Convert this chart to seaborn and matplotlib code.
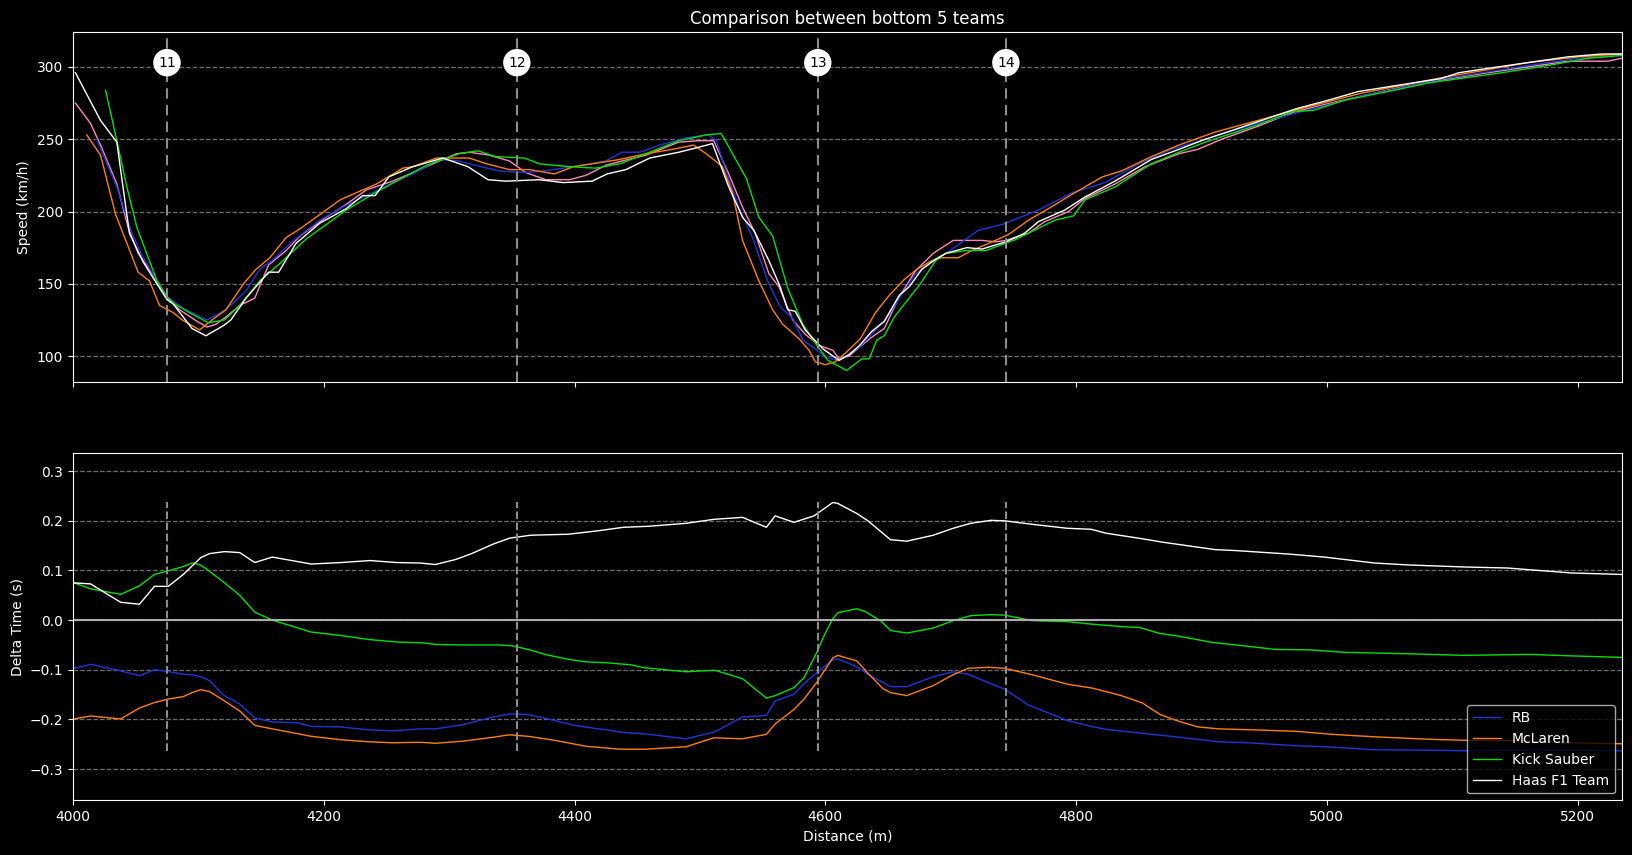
import pandas as pd
import matplotlib
matplotlib.use("Agg")
import matplotlib.pyplot as plt
import seaborn as sns

# Speed traces (distance in m, speed in km/h)
alpine_dist = [4002, 4014, 4022, 4035, 4044, 4052, 4065, 4075, 4085, 4099, 4107, 4114, 4122, 4133, 4145, 4156, 4170, 4181, 4202, 4218, 4234, 4255, 4282, 4295, 4306, 4316, 4332, 4348, 4361, 4377, 4396, 4409, 4425, 4438, 4457, 4483, 4499, 4511, 4523, 4534, 4544, 4555, 4563, 4574, 4584, 4596, 4606, 4611, 4619, 4627, 4637, 4647, 4659, 4672, 4686, 4702, 4725, 4736, 4744, 4762, 4775, 4794, 4807, 4831, 4855, 4882, 4897, 4916, 4945, 4974, 4998, 5028, 5059, 5091, 5128, 5160, 5192, 5224, 5235]
alpine_speed = [275, 261, 246, 219, 189, 171, 155, 140, 132, 124, 120, 122, 127, 135, 140, 163, 173, 183, 196, 205, 215, 221, 231, 236, 240, 241, 239, 235, 227, 222, 222, 225, 232, 235, 239, 248, 249, 249, 226, 203, 185, 157, 148, 125, 115, 107, 104, 98, 100, 106, 113, 119, 141, 159, 171, 180, 180, 179, 180, 185, 193, 200, 209, 219, 231, 240, 243, 250, 259, 269, 274, 280, 286, 291, 296, 300, 304, 304, 306]

rb_dist = [4019, 4035, 4047, 4056, 4075, 4088, 4107, 4122, 4138, 4149, 4160, 4176, 4197, 4215, 4239, 4255, 4271, 4292, 4308, 4316, 4340, 4361, 4375, 4391, 4412, 4425, 4438, 4452, 4468, 4489, 4507, 4513, 4521, 4531, 4542, 4554, 4564, 4574, 4582, 4592, 4600, 4611, 4627, 4640, 4648, 4659, 4672, 4690, 4698, 4722, 4741, 4770, 4797, 4823, 4850, 4876, 4903, 4945, 4988, 5028, 5094, 5160, 5200, 5235]
rb_speed = [250, 217, 185, 168, 141, 133, 125, 132, 145, 160, 167, 180, 194, 203, 213, 220, 226, 236, 235, 233, 228, 227, 228, 230, 233, 235, 241, 241, 246, 251, 253, 249, 228, 203, 182, 152, 134, 126, 111, 105, 99, 97, 106, 118, 125, 140, 157, 168, 172, 187, 191, 201, 213, 220, 233, 243, 250, 261, 271, 280, 292, 301, 306, 308]

mclaren_dist = [4011, 4022, 4034, 4043, 4052, 4061, 4069, 4080, 4087, 4101, 4111, 4122, 4136, 4146, 4157, 4170, 4181, 4197, 4213, 4226, 4242, 4263, 4271, 4290, 4316, 4330, 4348, 4364, 4384, 4399, 4414, 4436, 4457, 4478, 4495, 4505, 4518, 4526, 4534, 4547, 4558, 4566, 4579, 4587, 4592, 4600, 4608, 4616, 4628, 4640, 4651, 4663, 4673, 4685, 4693, 4706, 4717, 4733, 4746, 4762, 4778, 4797, 4821, 4836, 4860, 4882, 4911, 4945, 4974, 5028, 5094, 5160, 5200, 5235]
mclaren_speed = [253, 239, 198, 178, 158, 152, 135, 130, 125, 118, 125, 132, 150, 160, 168, 182, 188, 198, 208, 213, 219, 230, 231, 237, 237, 233, 229, 229, 226, 231, 233, 236, 240, 243, 246, 240, 231, 213, 180, 152, 132, 122, 112, 104, 96, 94, 96, 102, 112, 130, 142, 153, 160, 166, 168, 168, 173, 179, 184, 194, 202, 212, 224, 228, 238, 246, 255, 263, 270, 282, 293, 303, 307, 309]

sauber_dist = [4026, 4035, 4043, 4051, 4067, 4075, 4081, 4093, 4108, 4121, 4133, 4149, 4165, 4186, 4218, 4239, 4258, 4282, 4308, 4323, 4337, 4360, 4372, 4396, 4417, 4436, 4457, 4483, 4505, 4517, 4526, 4537, 4547, 4558, 4570, 4582, 4592, 4602, 4617, 4629, 4635, 4641, 4647, 4655, 4664, 4675, 4688, 4696, 4712, 4728, 4750, 4762, 4783, 4798, 4807, 4831, 4860, 4882, 4903, 4945, 4972, 4989, 5014, 5054, 5081, 5139, 5176, 5208, 5235]
sauber_speed = [284, 249, 217, 189, 152, 141, 136, 130, 123, 125, 135, 152, 164, 181, 201, 212, 221, 232, 240, 242, 238, 237, 233, 231, 230, 233, 240, 249, 253, 254, 240, 223, 196, 183, 147, 122, 109, 97, 90, 98, 98, 111, 114, 127, 137, 149, 166, 171, 173, 173, 180, 185, 194, 197, 208, 217, 233, 241, 248, 260, 269, 270, 277, 284, 289, 296, 301, 306, 308]

haas_dist = [4002, 4022, 4035, 4045, 4056, 4075, 4080, 4095, 4106, 4120, 4126, 4138, 4156, 4164, 4178, 4197, 4218, 4231, 4241, 4252, 4271, 4295, 4315, 4331, 4345, 4372, 4391, 4414, 4426, 4441, 4460, 4483, 4497, 4510, 4523, 4534, 4543, 4555, 4564, 4570, 4576, 4584, 4598, 4611, 4619, 4627, 4637, 4647, 4659, 4667, 4677, 4688, 4696, 4713, 4725, 4744, 4759, 4770, 4791, 4807, 4831, 4860, 4882, 4903, 4924, 4948, 4975, 5001, 5025, 5054, 5091, 5105, 5128, 5160, 5192, 5219, 5235]
haas_speed = [296, 263, 248, 185, 165, 139, 136, 119, 114, 121, 125, 140, 158, 158, 178, 192, 202, 211, 211, 224, 231, 237, 231, 222, 221, 222, 220, 221, 226, 229, 237, 241, 244, 247, 217, 196, 187, 166, 148, 132, 131, 118, 105, 97, 101, 107, 117, 124, 142, 148, 160, 167, 171, 175, 174, 179, 185, 193, 201, 210, 221, 236, 243, 250, 256, 263, 271, 277, 283, 287, 292, 296, 299, 303, 307, 309, 309]

# Delta time to the reference car (s)
rb_delta_dist = [4001, 4014, 4038, 4053, 4065, 4077, 4088, 4095, 4102, 4109, 4120, 4133, 4145, 4159, 4180, 4190, 4213, 4236, 4255, 4277, 4289, 4310, 4332, 4348, 4363, 4384, 4400, 4419, 4426, 4437, 4456, 4489, 4512, 4534, 4553, 4560, 4575, 4583, 4593, 4606, 4610, 4625, 4634, 4652, 4665, 4686, 4702, 4714, 4732, 4743, 4762, 4793, 4812, 4824, 4853, 4872, 4914, 4937, 4976, 4998, 5038, 5082, 5110, 5167, 5235]
rb_delta = [-0.097, -0.089, -0.102, -0.112, -0.100, -0.104, -0.109, -0.110, -0.114, -0.122, -0.151, -0.169, -0.197, -0.205, -0.207, -0.214, -0.215, -0.221, -0.223, -0.219, -0.219, -0.211, -0.197, -0.189, -0.190, -0.202, -0.212, -0.219, -0.221, -0.226, -0.229, -0.239, -0.225, -0.195, -0.192, -0.163, -0.149, -0.128, -0.106, -0.080, -0.078, -0.094, -0.109, -0.134, -0.134, -0.114, -0.104, -0.109, -0.128, -0.139, -0.171, -0.202, -0.214, -0.220, -0.228, -0.233, -0.245, -0.247, -0.253, -0.255, -0.261, -0.262, -0.263, -0.261, -0.263]

mclaren_delta_dist = [4001, 4014, 4038, 4053, 4065, 4076, 4088, 4095, 4102, 4109, 4121, 4133, 4145, 4159, 4190, 4214, 4236, 4255, 4277, 4289, 4310, 4332, 4348, 4363, 4384, 4409, 4437, 4456, 4489, 4511, 4534, 4553, 4560, 4575, 4583, 4593, 4606, 4610, 4625, 4634, 4646, 4652, 4665, 4686, 4701, 4714, 4730, 4743, 4765, 4793, 4813, 4836, 4853, 4867, 4881, 4897, 4914, 4942, 4976, 5004, 5038, 5082, 5110, 5155, 5195, 5235]
mclaren_delta = [-0.199, -0.193, -0.199, -0.177, -0.166, -0.159, -0.154, -0.146, -0.140, -0.144, -0.163, -0.183, -0.212, -0.219, -0.234, -0.241, -0.245, -0.247, -0.246, -0.248, -0.244, -0.237, -0.231, -0.234, -0.242, -0.254, -0.260, -0.260, -0.255, -0.237, -0.239, -0.230, -0.209, -0.180, -0.159, -0.126, -0.076, -0.071, -0.082, -0.107, -0.138, -0.146, -0.152, -0.132, -0.111, -0.097, -0.095, -0.097, -0.110, -0.129, -0.137, -0.152, -0.167, -0.190, -0.203, -0.215, -0.219, -0.221, -0.224, -0.230, -0.235, -0.240, -0.242, -0.243, -0.247, -0.249]

sauber_delta_dist = [4001, 4014, 4038, 4053, 4065, 4077, 4088, 4095, 4101, 4107, 4121, 4133, 4145, 4159, 4190, 4214, 4236, 4258, 4280, 4289, 4310, 4340, 4351, 4363, 4378, 4395, 4409, 4426, 4445, 4456, 4489, 4512, 4534, 4553, 4560, 4575, 4583, 4593, 4600, 4606, 4610, 4625, 4632, 4645, 4652, 4665, 4686, 4702, 4716, 4732, 4743, 4765, 4793, 4812, 4836, 4851, 4867, 4881, 4909, 4931, 4959, 4987, 5015, 5054, 5110, 5161, 5195, 5235]
sauber_delta = [0.075, 0.063, 0.052, 0.069, 0.092, 0.100, 0.108, 0.115, 0.112, 0.102, 0.075, 0.050, 0.016, 0.000, -0.024, -0.031, -0.039, -0.044, -0.046, -0.049, -0.050, -0.050, -0.052, -0.059, -0.070, -0.079, -0.084, -0.086, -0.090, -0.096, -0.104, -0.101, -0.118, -0.157, -0.152, -0.136, -0.116, -0.066, -0.026, 0.003, 0.015, 0.023, 0.017, -0.003, -0.021, -0.026, -0.016, -0.001, 0.009, 0.011, 0.010, -0.001, -0.003, -0.008, -0.013, -0.015, -0.027, -0.032, -0.045, -0.051, -0.059, -0.060, -0.065, -0.067, -0.071, -0.069, -0.072, -0.075]

haas_delta_dist = [4001, 4014, 4038, 4053, 4065, 4076, 4088, 4102, 4109, 4121, 4133, 4145, 4159, 4190, 4214, 4237, 4258, 4277, 4289, 4305, 4318, 4335, 4348, 4365, 4395, 4419, 4439, 4459, 4489, 4511, 4534, 4553, 4560, 4575, 4591, 4606, 4610, 4625, 4634, 4652, 4665, 4686, 4702, 4716, 4732, 4743, 4765, 4793, 4812, 4824, 4850, 4869, 4883, 4911, 4928, 4970, 4998, 5038, 5066, 5110, 5144, 5164, 5195, 5235]
haas_delta = [0.075, 0.073, 0.036, 0.032, 0.068, 0.068, 0.092, 0.126, 0.134, 0.138, 0.136, 0.116, 0.127, 0.113, 0.116, 0.120, 0.116, 0.115, 0.112, 0.122, 0.134, 0.153, 0.165, 0.171, 0.173, 0.180, 0.187, 0.189, 0.195, 0.203, 0.207, 0.187, 0.210, 0.197, 0.210, 0.237, 0.235, 0.215, 0.200, 0.162, 0.159, 0.171, 0.185, 0.195, 0.201, 0.200, 0.193, 0.185, 0.183, 0.175, 0.165, 0.157, 0.152, 0.142, 0.140, 0.133, 0.127, 0.115, 0.111, 0.107, 0.105, 0.101, 0.095, 0.092]

corner_numbers = [11, 12, 13, 14]
corner_dist = [4075, 4354, 4594, 4744]

# -------------------
# Figure setup
# -------------------
plt.style.use("dark_background")

fig = plt.figure(figsize=(16.32, 8.55), dpi=100)
ax1 = fig.add_axes([0.0447, 0.5532, 0.9489, 0.409])
ax2 = fig.add_axes([0.0447, 0.0639, 0.9489, 0.4065], sharex=ax1)

# -------------------
# Speed plot
# -------------------
speed_traces = [
    (alpine_dist, alpine_speed, "#FF87BC"),
    (rb_dist, rb_speed, "#2035D8"),
    (mclaren_dist, mclaren_speed, "#FF8000"),
    (sauber_dist, sauber_speed, "#00E000"),
    (haas_dist, haas_speed, "#FFFFFF"),
]
for d, s, c in speed_traces:
    sns.lineplot(x=d, y=s, ax=ax1, color=c, linewidth=1, legend=False)

ax1.set_ylim(82, 324)
ax1.set_ylabel("Speed (km/h)")
ax1.set_title("Comparison between bottom 5 teams", fontsize=12)
ax1.grid(axis="y", linestyle="--", color="grey", linewidth=0.9, alpha=0.85)
ax1.tick_params(labelbottom=False)

label_y = max(haas_speed) - 6
for num, cd in zip(corner_numbers, corner_dist):
    ax1.axvline(cd, color="#8C8C8C", linestyle="--", linewidth=1.5, dashes=(5, 3))
    ax1.text(cd, label_y, str(num), ha="center", va="center", color="black", fontsize=10,
             bbox=dict(boxstyle="circle,pad=0.3", facecolor="white", edgecolor="white"))

# -------------------
# Delta plot
# -------------------
delta_traces = [
    (rb_delta_dist, rb_delta, "#2035D8", "RB"),
    (mclaren_delta_dist, mclaren_delta, "#FF8000", "McLaren"),
    (sauber_delta_dist, sauber_delta, "#00E000", "Kick Sauber"),
    (haas_delta_dist, haas_delta, "#FFFFFF", "Haas F1 Team"),
]
for d, dt, c, name in delta_traces:
    sns.lineplot(x=d, y=dt, ax=ax2, color=c, linewidth=1, label=name)

all_deltas = rb_delta + mclaren_delta + sauber_delta + haas_delta
dmin, dmax = min(all_deltas), max(all_deltas)
ax2.axhline(0, color="#AAAAAA", linewidth=1.5)
ax2.vlines(corner_dist, dmin, dmax, colors="#8C8C8C", linestyles="--", linewidth=1.5)
ax2.set_ylim(dmin - 0.1, dmax + 0.1)
ax2.set_ylabel("Delta Time (s)")
ax2.set_xlabel("Distance (m)")
ax2.grid(axis="y", linestyle="--", color="grey", linewidth=0.9, alpha=0.85)
ax2.legend(loc="lower right")

ax1.set_xlim(4000, 5235)

fig.savefig("out.png", dpi=100)
